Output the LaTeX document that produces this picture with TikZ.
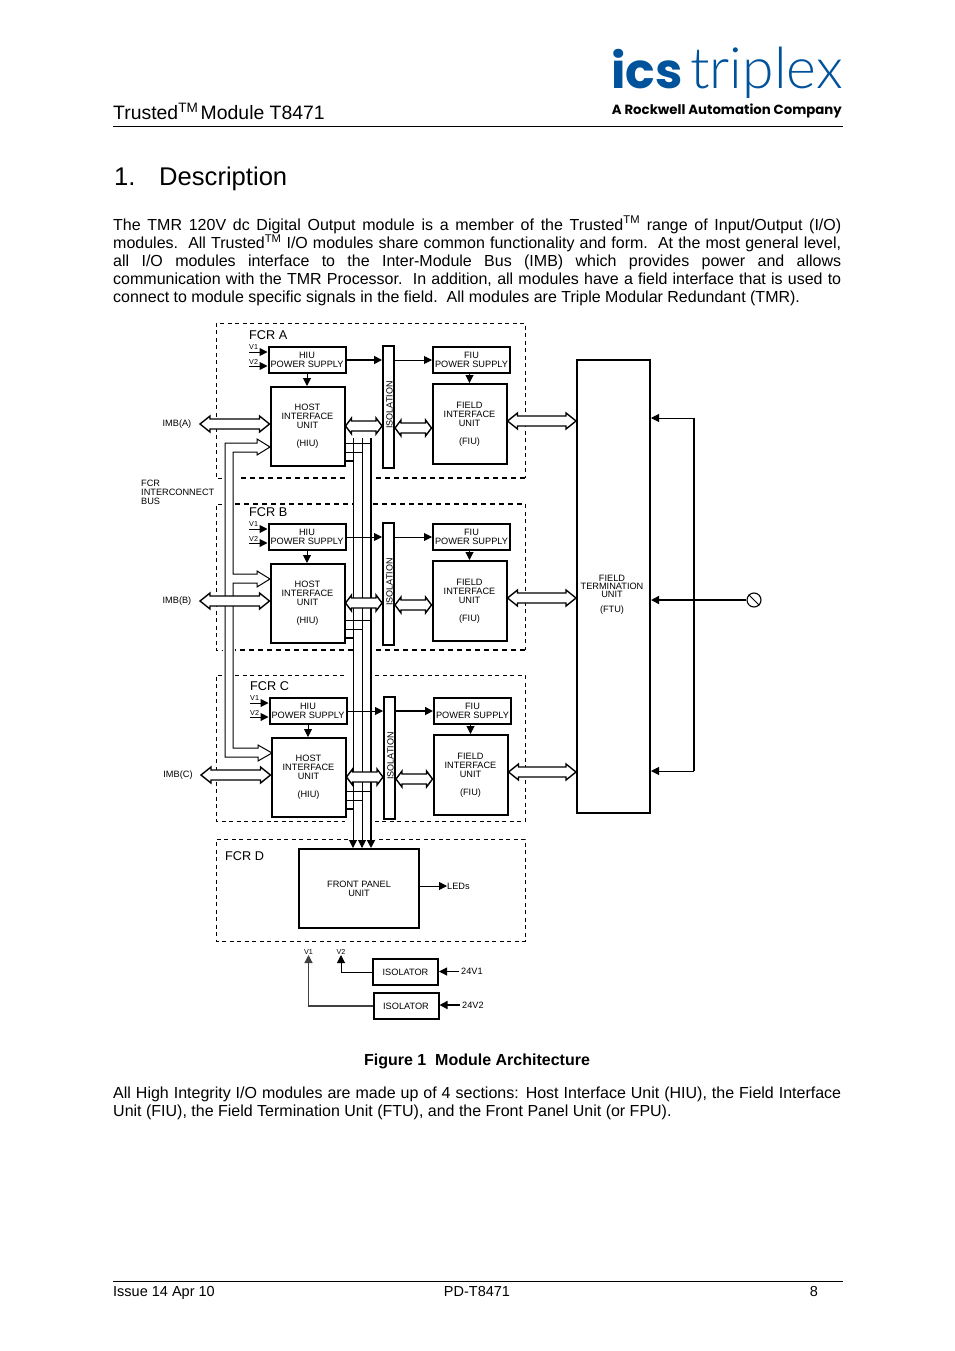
\documentclass[tikz,border=0pt]{standalone}
\usepackage{fontspec}
\setmainfont{Liberation Sans}
\newfontfamily\logoheavy{Poppins Bold}
\newfontfamily\logothin{Lato Light}
\usetikzlibrary{arrows.meta,calc}
\definecolor{logoblue}{RGB}{0,82,155}
\newcommand{\tm}{\textsuperscript{TM}}
\newcommand{\blocktext}{\fontsize{9.2}{9}\selectfont}
\tikzset{
	sig/.style={line width=1pt},
	tip/.style={-{Triangle[length=8pt,width=8pt]}},
	box/.style={draw, line width=2pt, inner sep=0pt, align=center, font=\blocktext},
	hiubox/.style={box, minimum width=74pt, minimum height=79pt},
	fiubox/.style={box, minimum width=74pt, minimum height=80pt},
	psubox/.style={box, minimum width=77pt, minimum height=26pt},
	fcrframe/.style={line width=.9pt, dash pattern=on 4pt off 3.5pt},
	fcrbold/.style={line width=1.4pt, dash pattern=on 5pt off 4pt},
	fcrlabel/.style={anchor=west, inner sep=0pt, font=\fontsize{12.7}{13}\selectfont},
	small/.style={inner sep=0pt, align=center, font=\blocktext},
	tiny/.style={inner sep=0pt, font=\fontsize{7.2}{8}\selectfont},
	para/.style={anchor=north west, inner sep=0pt, text width=728pt, align=justify, font=\fontsize{16}{18.2}\selectfont},
	bus/.style={line width=1.4pt, fill=white, to path={
		let \p1=(\tikztostart), \p2=(\tikztotarget) in
		(\x1,\y1) -- (\x1+#1,\y1+8pt) -- (\x1+#1,\y1+5pt) -- (\x2-#1,\y1+5pt) -- (\x2-#1,\y1+8pt)
		-- (\x2,\y1) -- (\x2-#1,\y1-8pt) -- (\x2-#1,\y1-5pt) -- (\x1+#1,\y1-5pt) -- (\x1+#1,\y1-8pt) -- cycle}}
}
\begin{document}
\begin{tikzpicture}[x=1pt, y=-1pt]
	\useasboundingbox (0,0) rectangle (954,1351);
	% page header
	\node[anchor=base west, inner sep=0pt, text=logoblue, font=\logoheavy\fontsize{49}{49}\selectfont] (logoics) at (611,88.5) {ics};
	\node[anchor=base west, inner sep=0pt, text=logoblue, font=\logothin\fontsize{57}{57}\selectfont] (logotrip) at (690,88.5) {triplex};
	\node[anchor=base east, inner sep=0pt, font=\logoheavy\fontsize{13.3}{14}\selectfont] (logosub) at (842,115) {A Rockwell Automation Company};
	\node[anchor=base west, inner sep=0pt, font=\fontsize{19.4}{20}\selectfont] (modtitle) at (113,120) {Trusted\tm\kern-3pt{} Module T8471};
	\draw[line width=1pt] (113,127) -- (843,127);
	\node[anchor=base west, inner sep=0pt, font=\fontsize{25.6}{26}\selectfont] (secnum) at (114,185.5) {1.};
	\node[anchor=base west, inner sep=0pt, font=\fontsize{25.6}{26}\selectfont] (sectitle) at (159,185.5) {Description};
	\node[para] (intro) at (113,216) {The TMR 120V dc Digital Output module is a member of the Trusted\tm{} range of Input/Output (I/O)\linebreak[4]
		modules.\ \ All Trusted\tm{} I/O modules share common functionality and form.\ \ At the most general level,\linebreak[4]
		all I/O modules interface to the Inter-Module Bus (IMB) which provides power and allows\linebreak[4]
		communication with the TMR Processor.\ \ In addition, all modules have a field interface that is used to\linebreak[4]
		connect to module specific signals in the field.\ \ All modules are Triple Modular Redundant (TMR).};
	% FCR A, B and C
	\foreach \fcr/\dx/\dy/\ly/\wa/\wb in {A/0/0/0/1.7pt/.9pt, B/0/177/0/.9pt/.9pt, C/1/351/-3/.9pt/1.7pt} {
	\begin{scope}[shift={(\dx,\dy)}]
		\node[fcrlabel] (label\fcr) at (249,335) {FCR \fcr};
		\node[psubox] (hps\fcr) at (307,360) {HIU\\POWER SUPPLY};
		\node[psubox] (fps\fcr) at (471.5,360) {FIU\\POWER SUPPLY};
		\node[hiubox] (hiu\fcr) at (307.5,426.5) {HOST\\INTERFACE\\UNIT\\[9pt](HIU)};
		\node[fiubox] (fiu\fcr) at (469.5,424) {FIELD\\INTERFACE\\UNIT\\[9pt](FIU)};
		\node[box, minimum width=11pt, minimum height=122pt] (iso\fcr) at (388.5,407) {};
		\node[small, rotate=90, font=\fontsize{9}{9}\selectfont] (isotext\fcr) at (389.5,405) {ISOLATION};
		\coordinate (vone\fcr) at (249,352);
		\coordinate (vtwo\fcr) at (249,366);
		\node[tiny, anchor=south west] (vlabone\fcr) at (249,350) {V1};
		\node[tiny, anchor=south west] (vlabtwo\fcr) at (249,364.5) {V2};
		\draw[sig, tip] (vone\fcr) -- (hps\fcr.west |- vone\fcr);
		\draw[sig, tip] (vtwo\fcr) -- (hps\fcr.west |- vtwo\fcr);
		\draw[sig, tip] (hps\fcr.south) -- (hiu\fcr.north -| hps\fcr.south);
		\draw[sig, tip] (fps\fcr.south -| fiu\fcr.north) -- (fiu\fcr.north);
		\draw[line width=\wa, tip] (hps\fcr.east) -- (iso\fcr.west |- hps\fcr.east);
		\draw[line width=\wb, tip] (iso\fcr.east |- fps\fcr.west) -- (fps\fcr.west);
		\coordinate (imb\fcr) at (200,424);
		\coordinate (hbus\fcr) at (344,426);
		\coordinate (fbus\fcr) at (394,428);
		\coordinate (ftub\fcr) at (507,421);
		% feeds to the front panel
		\draw[sig] (hiu\fcr.east |- 0,443+\ly) -- (371,443+\ly);
		\draw[sig] (hiu\fcr.east |- 0,452+\ly) -- (362,452+\ly);
		\draw[line width=1.7pt] (hiu\fcr.east |- 0,461+\ly) -- (353,461+\ly);
		\node[small, anchor=center] (imbtext\fcr) at (177,424) {IMB(\fcr)};
	\end{scope}
	}
	\node[box, minimum width=73pt, minimum height=453pt] (ftu) at (613.5,586.5) {};
	\node[small, font=\fontsize{9.2}{8}\selectfont] (ftutext) at (612,595) {FIELD\\TERMINATION\\UNIT\\[7pt](FTU)};
	\node[box, minimum width=120pt, minimum height=79pt] (fpu) at (359,888.5) {FRONT PANEL\\UNIT};
	\node[fcrlabel] (labelD) at (225,856) {FCR D};
	\node[small, anchor=west, font=\fontsize{9.2}{9}\selectfont] (leds) at (447,886) {LEDs};
	\draw[sig, tip] (fpu.east |- leds.west) -- (leds.west);
	% frames
	\draw[fcrframe] (222,478) -- (216,478) -- (216,323) -- (525,323) -- (525,478);
	\draw[fcrbold] (525,478) -- (375,478);
	\draw[fcrbold] (345,478) -- (238,478);
	\draw[fcrframe] (222,504) -- (216,504) -- (216,650) -- (222,650);
	\draw[fcrbold] (235,504) -- (353,504);
	\draw[fcrbold] (373,504) -- (525,504);
	\draw[fcrframe] (525,504) -- (525,650);
	\draw[fcrbold] (525,650) -- (373,650);
	\draw[fcrbold] (353,650) -- (235,650);
	\draw[fcrframe] (222,675) -- (216,675) -- (216,821) -- (345,821);
	\draw[fcrframe] (235,675) -- (347,675);
	\draw[fcrframe] (375,675) -- (525,675) -- (525,821) -- (375,821);
	\draw[fcrframe] (348,839) -- (216,839) -- (216,941) -- (525,941) -- (525,839) -- (375,839);
	% lines to the front panel
	\coordinate (feeda) at (353,438);
	\coordinate (feedb) at (362,438);
	\coordinate (feedc) at (371,438);
	\draw[sig, tip] (feeda) -- (feeda |- fpu.north);
	\draw[sig, tip] (feedb) -- (feedb |- fpu.north);
	\draw[line width=1.7pt, tip] (feedc) -- (feedc |- fpu.north);
	% interconnect bus
	\coordinate (headA) at (270,447);
	\coordinate (headB) at (270,579);
	\coordinate (headC) at (272,753);
	\draw[sig] (headA) -- (257,439) -- (257,443) -- (225,443) -- (225,757) -- (258,757) -- (258,761) -- (headC);
	\draw[sig] (headA) -- (257,455) -- (257,452) -- (233,452) -- (233,574) -- (257,574) -- (257,571) -- (headB);
	\draw[sig] (headB) -- (257,587) -- (257,583) -- (233,583) -- (233,748) -- (258,748) -- (258,745) -- (headC);
	\node[small, anchor=north west, align=left] (bustext) at (141,480) {FCR\\INTERCONNECT\\BUS};
	\foreach \fcr in {A,B,C} {
		\draw[bus=10pt] (imb\fcr) to (hiu\fcr.west |- imb\fcr);
		\draw[bus=6pt] (hbus\fcr -| hiu\fcr.east) to (iso\fcr.west |- hbus\fcr);
		\draw[bus=6pt] (fbus\fcr -| iso\fcr.east) to (fiu\fcr.west |- fbus\fcr);
		\draw[bus=10pt] (ftub\fcr -| fiu\fcr.east) to (ftu.west |- ftub\fcr);
	}
	% field side
	\coordinate (reta) at (694,418);
	\coordinate (retb) at (694,771);
	\node[draw, circle, line width=1.1pt, minimum size=14pt, inner sep=0pt] (term) at (754,600) {};
	\draw[sig] (term.north west) -- (term.south east);
	\draw[line width=1.6pt] (reta) -- (retb);
	\draw[sig, tip] (reta) -- (ftu.east |- reta);
	\draw[sig, tip] (retb) -- (ftu.east |- retb);
	\draw[line width=1.5pt, tip] (term.west) -- (ftu.east |- term.west);
	% isolators
	\node[box, minimum width=65pt, minimum height=26pt] (isolone) at (405.5,972) {ISOLATOR};
	\node[box, minimum width=65pt, minimum height=26pt] (isoltwo) at (406,1006) {ISOLATOR};
	\node[small, anchor=south] (vtop) at (308.5,955) {\fontsize{7.2}{8}\selectfont V1};
	\node[small, anchor=south] (vtoptwo) at (341,955) {\fontsize{7.2}{8}\selectfont V2};
	\draw[sig, tip] (isolone.west) -| (vtoptwo.south);
	\draw[line width=1.2pt, color=black!75, tip] (isoltwo.west) -| (vtop.south);
	\node[small, anchor=west] (inone) at (461,971.5) {24V1};
	\node[small, anchor=west] (intwo) at (462,1005) {24V2};
	\draw[sig, tip] (459,971.5) -- (isolone.east |- inone.west);
	\draw[line width=1.5pt, tip] (460,1005) -- (isoltwo.east |- intwo.west);
	% caption and closing text
	\node[inner sep=0pt, font=\bfseries\fontsize{16}{17.5}\selectfont] (caption) at (477,1061) {Figure 1\ \ Module Architecture};
	\node[para] (outro) at (113,1086.5) {All High Integrity I/O modules are made up of 4 sections: Host Interface Unit (HIU), the Field Interface\linebreak[4]
		Unit (FIU), the Field Termination Unit (FTU), and the Front Panel Unit (or FPU).};
	% page footer
	\draw[line width=1pt] (113,1281) -- (843,1281);
	\node[anchor=base west, inner sep=0pt, font=\fontsize{14.5}{16}\selectfont] (issue) at (113,1296) {Issue 14 Apr 10};
	\node[anchor=base, inner sep=0pt, font=\fontsize{14.5}{16}\selectfont] (docid) at (477,1296) {PD-T8471};
	\node[anchor=base, inner sep=0pt, font=\fontsize{14.5}{16}\selectfont] (pageno) at (814,1296) {8};
\end{tikzpicture}
\end{document}
